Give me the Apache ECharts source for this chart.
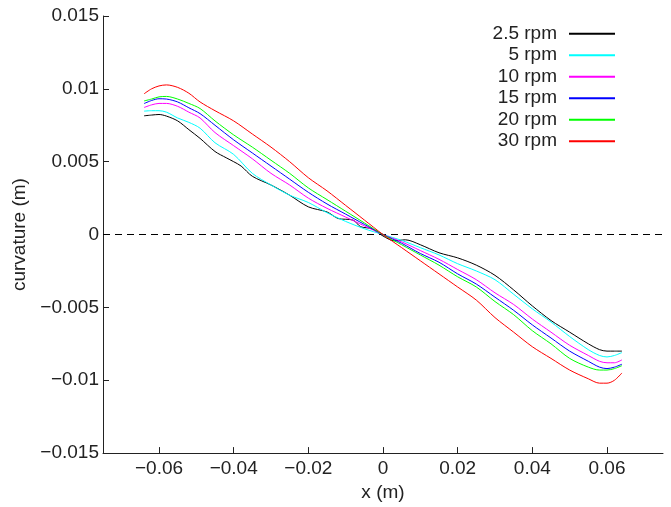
<!DOCTYPE html>
<html>
<head>
<meta charset="utf-8">
<script src="https://cdn.jsdelivr.net/npm/echarts@6/dist/echarts.min.js"></script>
<style>html,body{margin:0;padding:0;background:#fff}#c{width:671px;height:507px}</style>
</head>
<body>
<div id="c"></div>
<script>
const seriesNames = ['2.5 rpm', '5 rpm', '10 rpm', '15 rpm', '20 rpm', '30 rpm'];
const xTicks = [-0.06, -0.04, -0.02, 0, 0.02, 0.04, 0.06];
const yTicks = [-0.015, -0.01, -0.005, 0, 0.005, 0.01, 0.015];

const xCommon = [-0.064, -0.062, -0.06, -0.058, -0.055, -0.052, -0.049, -0.045, -0.04, -0.035, -0.03, -0.025, -0.02, -0.015, -0.01, -0.005, 0, 0.005, 0.01, 0.015, 0.02, 0.025, 0.03, 0.035, 0.04, 0.045, 0.05, 0.055, 0.058, 0.06, 0.062, 0.064];

const xBlack = [-0.064, -0.062, -0.06, -0.058, -0.055, -0.052, -0.049, -0.045, -0.042, -0.04, -0.038, -0.035, -0.03, -0.025, -0.02, -0.015, -0.012, -0.008, -0.006, -0.003, 0, 0.003, 0.006, 0.01, 0.015, 0.02, 0.025, 0.03, 0.035, 0.04, 0.045, 0.05, 0.055, 0.058, 0.06, 0.062, 0.064];
const yBlack = [0.00815, 0.0082, 0.00824, 0.00813, 0.0078, 0.0072, 0.0066, 0.0057, 0.00527, 0.005, 0.0047, 0.004, 0.0034, 0.0027, 0.0019, 0.00155, 0.0011, 0.00099, 0.00054, 0.0004, -0.0001, -0.00043, -0.00036, -0.0007, -0.00125, -0.0016, -0.0021, -0.0028, -0.0038, -0.0049, -0.0059, -0.0067, -0.0075, -0.0079, -0.008, -0.008, -0.008];

const yCyan = [0.00847, 0.0085, 0.0085, 0.0084, 0.008, 0.0077, 0.0073, 0.0063, 0.0055, 0.0042, 0.0034, 0.0027, 0.0022, 0.0015, 0.0009, 0.0004, 0, -0.0004, -0.0009, -0.0014, -0.002, -0.0025, -0.0031, -0.0041, -0.0051, -0.006, -0.007, -0.0079, -0.0083, -0.0084, -0.0083, -0.0081];
const yMagenta = [0.00872, 0.0089, 0.009, 0.009, 0.0088, 0.0084, 0.008, 0.007, 0.0061, 0.0052, 0.0042, 0.0034, 0.0025, 0.0018, 0.0012, 0.0006, 0, -0.0005, -0.0011, -0.0017, -0.0024, -0.0031, -0.004, -0.0048, -0.0058, -0.0067, -0.0076, -0.0083, -0.0087, -0.0088, -0.0088, -0.0086];
const yBlue = [0.00899, 0.0092, 0.00932, 0.0093, 0.0091, 0.0087, 0.0083, 0.0075, 0.0065, 0.0056, 0.0047, 0.0038, 0.0029, 0.0021, 0.0014, 0.0007, 0, -0.0006, -0.0013, -0.0019, -0.0027, -0.0034, -0.0043, -0.0052, -0.0062, -0.0071, -0.008, -0.0087, -0.0091, -0.0092, -0.0091, -0.0089];
const yGreen = [0.00917, 0.0093, 0.00945, 0.00948, 0.0093, 0.009, 0.00865, 0.0078, 0.00684, 0.006, 0.0051, 0.0042, 0.0032, 0.0024, 0.0016, 0.0008, 0, -0.0007, -0.0014, -0.0021, -0.0029, -0.0036, -0.0046, -0.0055, -0.0066, -0.0075, -0.0085, -0.0091, -0.0093, -0.0093, -0.0092, -0.009];
const yRed = [0.00966, 0.01, 0.0102, 0.01027, 0.0101, 0.0097, 0.0091, 0.0085, 0.0078, 0.0069, 0.006, 0.005, 0.0039, 0.003, 0.002, 0.001, 0, -0.0009, -0.0018, -0.0027, -0.0036, -0.0045, -0.0057, -0.0067, -0.0077, -0.0085, -0.0093, -0.0099, -0.0102, -0.0102, -0.01, -0.0095];

const colors = ['#000000', '#00ffff', '#ff00ff', '#0000ff', '#00ff00', '#ff0000'];

const zip = (xs, ys) => xs.map((x, i) => [x, ys[i]]);
const seriesData = [
  zip(xBlack, yBlack),
  zip(xCommon, yCyan),
  zip(xCommon, yMagenta),
  zip(xCommon, yBlue),
  zip(xCommon, yGreen),
  zip(xCommon, yRed)
];

const fmt = v => String(+(+v).toFixed(4)).replace('-', '\u2212');
const font = 'Liberation Sans, Arial, Helvetica, sans-serif';
const txt = '#222222';

const series = seriesNames.map((name, i) => ({
  name: name,
  type: 'line',
  data: seriesData[i],
  symbol: 'none',
  showSymbol: false,
  smooth: 0.3,
  lineStyle: { color: colors[i], width: 1 },
  itemStyle: { color: colors[i] },
  z: 3 + i,
  markLine: i === 0 ? {
    silent: true,
    symbol: 'none',
    label: { show: false },
    lineStyle: { color: '#000', type: [7, 5], width: 1 },
    data: [{ yAxis: 0 }],
    animation: false
  } : undefined
}));

const chart = echarts.init(document.getElementById('c'), null, { renderer: 'canvas' });
chart.setOption({
  animation: false,
  backgroundColor: '#fff',
  grid: { left: 103, right: 8, top: 16, bottom: 48 },
  legend: {
    data: seriesNames,
    orient: 'vertical',
    align: 'right',
    right: 55,
    top: 23,
    padding: 0,
    itemWidth: 46,
    itemHeight: 10,
    itemGap: 0,
    selectedMode: false,
    itemStyle: { opacity: 0, borderWidth: 0 },
    textStyle: { fontFamily: font, fontSize: 19, color: txt, lineHeight: 21.5, padding: [0, 7, 0, 0] }
  },
  xAxis: {
    type: 'value',
    min: -0.075,
    max: 0.075,
    name: 'x (m)',
    nameLocation: 'middle',
    nameGap: 26,
    nameTextStyle: { fontFamily: font, fontSize: 19, color: txt },
    axisLine: { show: true, onZero: false, lineStyle: { color: '#222', width: 1 } },
    axisTick: { show: true, inside: true, length: 6, customValues: xTicks, lineStyle: { color: '#222' } },
    axisLabel: { customValues: xTicks, formatter: fmt, fontFamily: font, fontSize: 19, color: txt, margin: 6 },
    splitLine: { show: false }
  },
  yAxis: {
    type: 'value',
    min: -0.015,
    max: 0.015,
    name: 'curvature (m)',
    nameLocation: 'middle',
    nameRotate: 90,
    nameGap: 69,
    nameTextStyle: { fontFamily: font, fontSize: 19, color: txt },
    axisLine: { show: true, onZero: false, lineStyle: { color: '#222', width: 1 } },
    axisTick: { show: true, inside: true, length: 6, customValues: yTicks, lineStyle: { color: '#222' } },
    axisLabel: { customValues: yTicks, formatter: fmt, fontFamily: font, fontSize: 19, color: txt, margin: 4 },
    splitLine: { show: false }
  },
  series: series
});
</script>
</body>
</html>
